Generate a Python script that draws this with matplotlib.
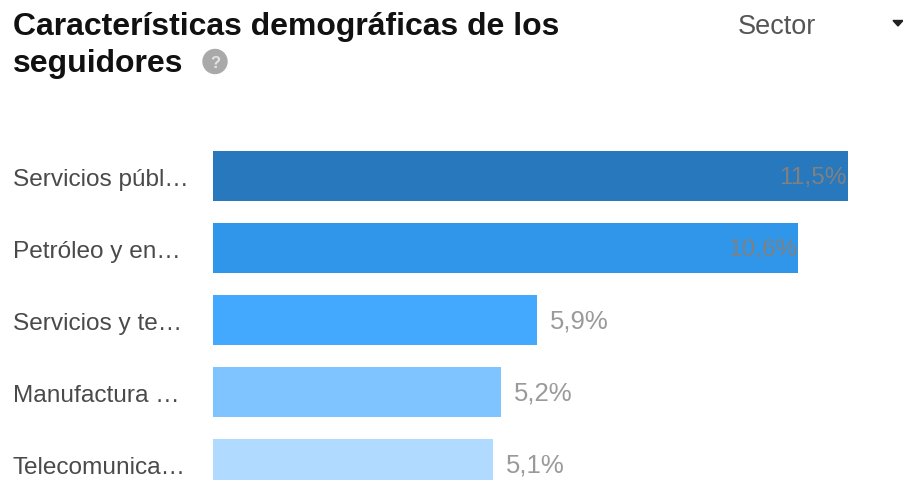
import matplotlib

matplotlib.use("Agg")
import matplotlib.pyplot as plt
from matplotlib.patches import Circle, Polygon


LABELS = ["Servicios públ…", "Petróleo y en…", "Servicios y te…", "Manufactura …", "Telecomunica…"]
VALUES = [11.5, 10.6, 5.87, 5.22, 5.07]
VALUE_TEXT = ["11,5%", "10,6%", "5,9%", "5,2%", "5,1%"]
COLORS = ["#2878bd", "#2f96e9", "#42a9ff", "#7fc3ff", "#b0daff"]

WIDTH, HEIGHT = 904, 481
PX_PER_UNIT = 55.2
BAR_LEFT = 213
ROW_GAP = 72
FIRST_ROW = 176.5

plt.rcParams["font.family"] = ["Liberation Sans", "DejaVu Sans"]


def plot():
    fig = plt.figure(figsize=(WIDTH / 100, HEIGHT / 100), dpi=100)

    ax = fig.add_axes([0, 0, 1, 1])
    ax.set_xlim(-BAR_LEFT / PX_PER_UNIT, (WIDTH - BAR_LEFT) / PX_PER_UNIT)
    ax.set_ylim((HEIGHT - FIRST_ROW) / ROW_GAP, -FIRST_ROW / ROW_GAP)
    ax.axis("off")

    rows = range(len(VALUES))
    ax.barh(rows, VALUES, height=50 / ROW_GAP, color=COLORS)

    for row, label, value, text in zip(rows, LABELS, VALUES, VALUE_TEXT):
        ax.text(-200 / PX_PER_UNIT, row + 0.045, label, fontsize=17.6, color="#4a4a4a", va="center", ha="left", clip_on=False)
        if value > 10:
            ax.text(value - 0.02, row + 0.02, text, fontsize=17.6, color="#808080", va="center", ha="right")
        else:
            ax.text(value + 0.24, row + 0.02, text, fontsize=18.5, color="#9a9a9a", va="center", ha="left")

    # header lives in pixel coords
    over = fig.add_axes([0, 0, 1, 1])
    over.set_xlim(0, WIDTH)
    over.set_ylim(HEIGHT, 0)
    over.axis("off")
    over.patch.set_alpha(0)

    title = dict(fontsize=23, fontweight="bold", color="#111111", va="center", ha="left")
    over.text(13, 27, "Características demográficas de los", **title)
    over.text(13, 64, "seguidores", **title)
    over.add_patch(Circle((215, 62.5), 12, color="#a9a9a9"))
    over.text(215, 63, "?", fontsize=12, fontweight="bold", color="#e4e4e4", va="center", ha="center")

    over.text(738, 27, "Sector", fontsize=19.5, color="#555555", va="center", ha="left")
    over.add_patch(Polygon([(893, 21.5), (903, 21.5), (898, 27)], color="#222222"))

    fig.savefig("out.png", dpi=100)


plot()
